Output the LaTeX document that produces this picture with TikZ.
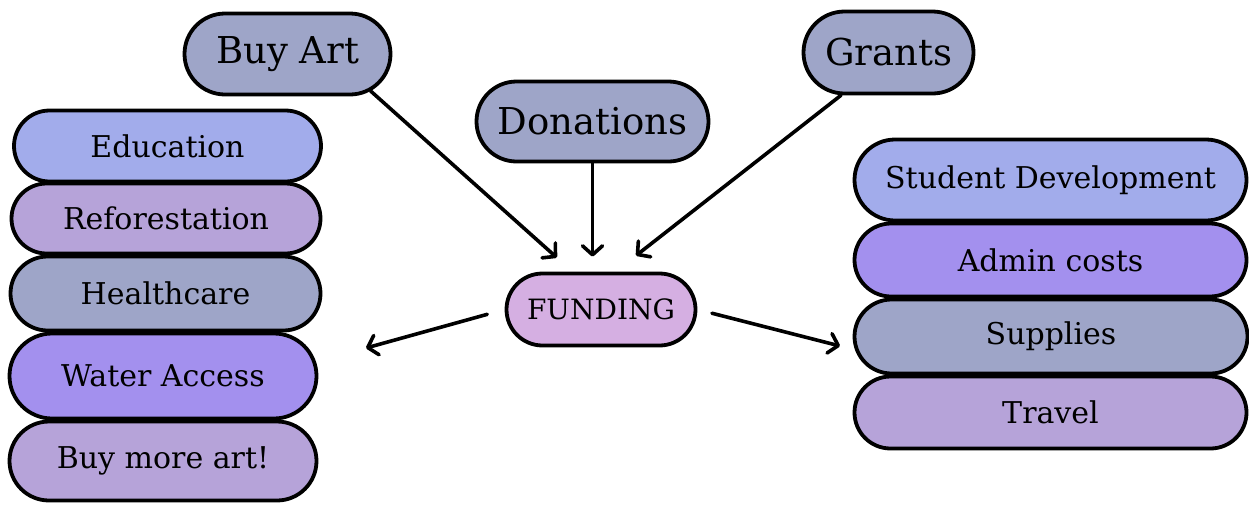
\documentclass[tikz,border=0pt]{standalone}
\usepackage{fontspec}
\setmainfont{DejaVu Serif}
\usetikzlibrary{shapes.misc,arrows.meta}
\definecolor{periwinkle}{HTML}{A2ACEB}
\definecolor{lilac}{HTML}{B6A3D9}
\definecolor{slate}{HTML}{9EA5C8}
\definecolor{violet}{HTML}{A390EE}
\definecolor{orchid}{HTML}{D5AFE2}
\begin{document}
\begin{tikzpicture}[x=1pt,y=-1pt]
\tikzstyle{pill}=[rounded rectangle,draw=black,line width=3.8pt,inner sep=0pt,font=\fontsize{30}{36}\selectfont]
\tikzstyle{bigPill}=[pill,font=\fontsize{37}{44}\selectfont]
\tikzstyle{flow}=[line width=3.6pt,line cap=round,-{Straight Barb[length=9pt,width=20pt,line cap=round,line join=round]}]
\useasboundingbox (0,0) rectangle (1249,504);

%sources
\node[bigPill,fill=slate,minimum width=206pt,minimum height=81pt] (buyArt)    at (287.5,54)  {Buy Art};
\node[bigPill,fill=slate,minimum width=232pt,minimum height=80pt] (donations) at (592.5,121.5) {Donations};
\node[bigPill,fill=slate,minimum width=170pt,minimum height=82pt] (grants)    at (888.5,52.5) {Grants};

%funding
\node[pill,fill=orchid,minimum width=189pt,minimum height=72pt,font=\fontsize{28}{34}\selectfont] (funding) at (601,309.5) {FUNDING};

%left uses
\node[pill,fill=periwinkle,minimum width=307pt,minimum height=71pt] (education)     at (167.5,146)  {Education};
\node[pill,fill=lilac,     minimum width=309pt,minimum height=70pt] (reforestation) at (166,218.5)  {Reforestation};
\node[pill,fill=slate,     minimum width=310pt,minimum height=74pt] (healthcare)    at (165.5,293.5) {Healthcare};
\node[pill,fill=violet,    minimum width=307pt,minimum height=85pt] (water)         at (163,376)    {Water Access};
\node[pill,fill=lilac,     minimum width=307pt,minimum height=79pt] (buyMore)       at (163,461)    {Buy more art!};

%right uses
\node[pill,fill=periwinkle,minimum width=392pt,minimum height=81pt] (student)  at (1050.5,180)  {Student Development};
\node[pill,fill=violet,    minimum width=392pt,minimum height=73pt] (admin)    at (1050.5,260)  {Admin costs};
\node[pill,fill=slate,     minimum width=393pt,minimum height=74pt] (supplies) at (1051,336.5)  {Supplies};
\node[pill,fill=lilac,     minimum width=392pt,minimum height=72pt] (travel)   at (1050.5,412.5) {Travel};

% free ends
\coordinate (leftEnd)  at (366,348);
\coordinate (rightEnd) at (840,346);

% connections
\draw[flow,shorten >=21pt] (buyArt.-24) -- (funding.127);
\draw[flow,shorten >=15pt] (donations.south) -- (donations.south |- funding.north);
\draw[flow,shorten >=26pt] (grants.222.5) -- (funding.69);
\draw[flow,shorten <=18pt] (funding.west) -- (leftEnd);
\draw[flow,shorten <=15pt] (funding.east) -- (rightEnd);

\end{tikzpicture}
\end{document}
